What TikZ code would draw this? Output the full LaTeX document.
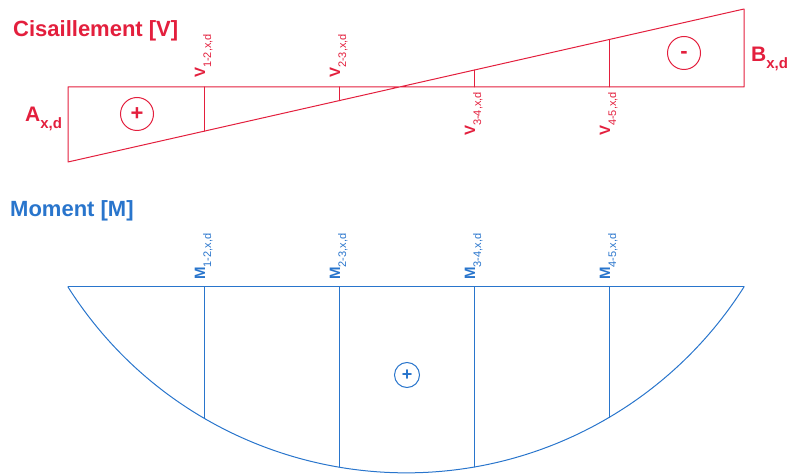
\documentclass[tikz,border=0pt]{standalone}
\usepackage{fontspec}
\setmainfont{Liberation Sans}
\usepackage{tkz-euclide}
\definecolor{ShearClr}{rgb}{0.89,0.12,0.24}
\definecolor{MomentClr}{rgb}{0.16,0.46,0.80}
\newcommand{\BigLbl}[2]{{\fontsize{21}{21}\selectfont\bfseries #1\raisebox{-7pt}{\fontsize{15}{15}\selectfont #2}}}
\newcommand{\CutLbl}[2]{{\fontsize{15}{15}\selectfont\bfseries #1\raisebox{-6pt}{\fontsize{11}{11}\selectfont\mdseries #2}}}

\begin{document}
\begin{tikzpicture}[x=1pt,y=1pt,
  TitleLbl/.style={anchor=base west,inner sep=0pt,font=\fontsize{22}{22}\selectfont\bfseries},
  CutLblUp/.style={rotate=90,anchor=base west,inner sep=0pt},
  CutLblDown/.style={rotate=90,anchor=base east,inner sep=0pt},
  SignV/.style={draw=ShearClr,text=ShearClr,circle,inner sep=0pt,minimum size=33pt,line width=1pt,font=\fontsize{22}{22}\selectfont\bfseries},
  SignM/.style={draw=MomentClr,text=MomentClr,circle,inner sep=0pt,minimum size=25pt,line width=1pt,font=\fontsize{18}{18}\selectfont\bfseries}]
\useasboundingbox (0,0) rectangle (789,474);

\tkzDefPoints{68/387/A0,68/312/A1,744/387/B0,744/465/B1}
\tkzDefPoints{204/387/P1,339/387/P2,474/387/P3,609/387/P4}
\tkzDefPoints{204/342.8/S1,339/373.3/S2,474/403.9/S3,609/434.4/S4}

\tkzDrawPolygon[color=ShearClr,line width=1pt](A0,A1,B1,B0)
\tkzDrawSegments[color=ShearClr,line width=1pt](P1,S1 P2,S2 P3,S3 P4,S4)

\tkzDefPoints{68/187/M0,744/187/M5}
\tkzDefPoints{204/187/N1,339/187/N2,474/187/N3,609/187/N4}
\tkzDefPoints{204/56/K1,339/7/K2,474/7/K3,609/56.5/K4}

\tkzDrawSegment[color=MomentClr,line width=1pt](M0,M5)
\draw[color=MomentClr,line width=1pt] (M0) arc[start angle=212.4,end angle=327.6,radius=400.3];
\tkzDrawSegments[color=MomentClr,line width=1pt](N1,K1 N2,K2 N3,K3 N4,K4)

\node[TitleLbl,text=ShearClr] (ttlV) at (13,437) {Cisaillement [V]};
\node[TitleLbl,text=MomentClr] (ttlM) at (10,257) {Moment [M]};

\node[anchor=base west,inner sep=0pt,text=ShearClr] (lblA) at (25,352) {\BigLbl{A}{x,d}};
\node[anchor=base west,inner sep=0pt,text=ShearClr] (lblB) at (751,412) {\BigLbl{B}{x,d}};

\node[CutLblUp,text=ShearClr] (v12) at (205,396) {\CutLbl{V}{1-2,x,d}};
\node[CutLblUp,text=ShearClr] (v23) at (340,396) {\CutLbl{V}{2-3,x,d}};
\node[CutLblDown,text=ShearClr] (v34) at (475,382) {\CutLbl{V}{3-4,x,d}};
\node[CutLblDown,text=ShearClr] (v45) at (610,382) {\CutLbl{V}{4-5,x,d}};

\node[CutLblUp,text=MomentClr] (m12) at (205,194) {\CutLbl{M}{1-2,x,d}};
\node[CutLblUp,text=MomentClr] (m23) at (340,194) {\CutLbl{M}{2-3,x,d}};
\node[CutLblUp,text=MomentClr] (m34) at (475,194) {\CutLbl{M}{3-4,x,d}};
\node[CutLblUp,text=MomentClr] (m45) at (610,194) {\CutLbl{M}{4-5,x,d}};

\node[SignV] (plusV) at (137,360) {+};
\node[SignV] (minusV) at (684,421) {\raisebox{-11pt}{-}};
\node[SignM] (plusM) at (407,99) {+};

\end{tikzpicture}
\end{document}
